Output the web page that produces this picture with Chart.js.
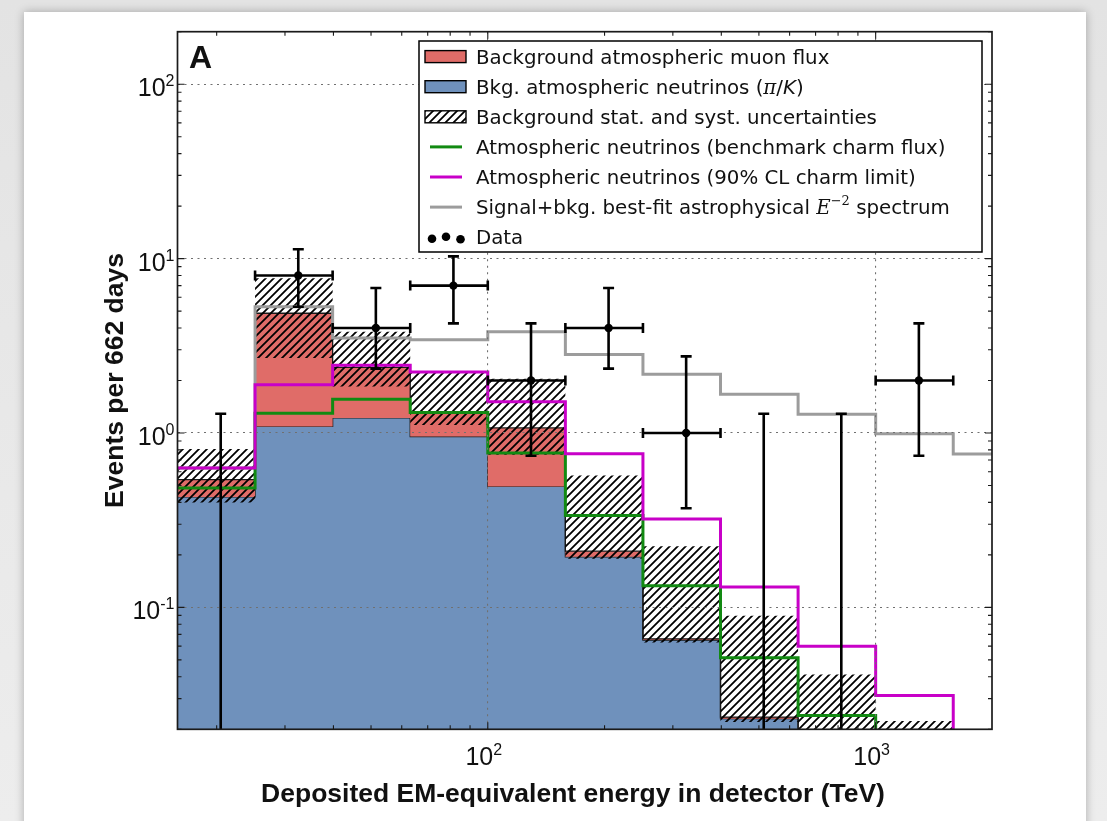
<!DOCTYPE html>
<html>
<head>
<meta charset="utf-8">
<script src="https://cdn.jsdelivr.net/npm/chart.js@4.4.1/dist/chart.umd.min.js"></script>
<style>
  html, body { margin: 0; padding: 0; }
  body { width: 1107px; height: 821px; overflow: hidden; position: relative;
         background: linear-gradient(#e3e3e3, #ededed); }
  #card { position: absolute; left: 24px; top: 12px; width: 1062px; height: 840px;
          background: #fff; box-shadow: 0 0 9px rgba(0,0,0,0.28); }
  #plot { position: absolute; left: 0; top: 0; }
</style>
</head>
<body>
<div id="card"></div>
<canvas id="plot" width="1107" height="821"></canvas>
<script>
// Energy bin edges (TeV), five bins per decade
const binEdges = [15.85, 25.12, 39.81, 63.10, 100, 158.5, 251.2, 398.1, 631.0, 1000, 1585, 2512];
const xRange = [15.85, 1995];
const yRange = [0.02, 200];

// Conventional atmospheric neutrinos (pi/K)
const bkgNeutrino = [0.43, 1.09, 1.22, 0.955, 0.494, 0.195, 0.065, 0.023, 0.012, 0.006, 0.003];
// Total background: neutrinos + atmospheric muons
const bkgTotal = [0.54, 4.86, 2.38, 1.30, 1.07, 0.21, 0.066, 0.0235, 0.0125, 0.0062, 0.0031];
// Background uncertainty band (stat. + syst.)
const bandLow = [0.40, 2.69, 1.85, 1.11, 0.75, 0.19, 0.063, 0.022, 0.011, 0.005, 0.0025];
const bandHigh = [0.81, 7.71, 3.81, 2.23, 2.05, 0.57, 0.224, 0.0897, 0.0412, 0.0223, 0.012];
// Atmospheric neutrinos incl. charm
const charmBenchmark = [0.484, 1.30, 1.56, 1.31, 0.767, 0.336, 0.133, 0.0514, 0.024, 0.011, 0.005];
const charmLimit = [0.63, 1.89, 2.45, 2.24, 1.51, 0.76, 0.321, 0.131, 0.0599, 0.0313, 0.015];
// Signal + background, best-fit E^-2 astrophysical flux
const signalPlusBkg = [0.63, 5.30, 3.50, 3.42, 3.81, 2.82, 2.17, 1.67, 1.28, 0.99, 0.757];

// Observed events and their 68% intervals
const eventCounts = [0, 8, 4, 7, 2, 4, 1, 0, 0, 2];
const countLow = [0, 5.30, 2.34, 4.25, 0.74, 2.34, 0.37, 0, 0, 0.74];
const countHigh = [1.29, 11.32, 6.78, 10.30, 4.25, 6.78, 2.75, 1.29, 1.29, 4.25];

const xTickExponents = [2, 3];
const yTickExponents = [-1, 0, 1, 2];

const legendLabels = [
  'Background atmospheric muon flux',
  'Bkg. atmospheric neutrinos (',
  'Background stat. and syst. uncertainties',
  'Atmospheric neutrinos (benchmark charm flux)',
  'Atmospheric neutrinos (90% CL charm limit)',
  'Signal+bkg. best-fit astrophysical ',
  'Data'
];

const COLORS = {
  blue: '#6f91bc', red: '#e06c68', edge: '#1a1a1a',
  green: '#128a12', magenta: '#c800c8', gray: '#9c9c9c'
};

const canvas = document.getElementById('plot');
const ctx2d = canvas.getContext('2d');

// Diagonal "////" hatch used for the uncertainty band
function makeHatch(bg) {
  const s = 8;
  const t = document.createElement('canvas');
  t.width = s; t.height = s;
  const g = t.getContext('2d');
  if (bg) { g.fillStyle = bg; g.fillRect(0, 0, s, s); }
  g.strokeStyle = '#000';
  g.lineWidth = 1.8;
  g.beginPath();
  g.moveTo(-1, s + 1); g.lineTo(s + 1, -1);
  g.moveTo(-s / 2 - 1, s / 2 + 1); g.lineTo(s / 2 + 1, -s / 2 - 1);
  g.moveTo(s / 2 - 1, s * 1.5 + 1); g.lineTo(s * 1.5 + 1, s / 2 - 1);
  g.stroke();
  return ctx2d.createPattern(t, 'repeat');
}
const hatch = makeHatch(null);
const hatchWhite = makeHatch('#ffffff');

// Histogram as a stepped line: value i held from edge i to edge i+1
function stepPoints(vals) {
  const pts = vals.map((v, i) => ({ x: binEdges[i], y: v }));
  pts.push({ x: binEdges[vals.length], y: vals[vals.length - 1] });
  return pts;
}

const dataPoints = eventCounts
  .map((n, i) => (n > 0 ? { x: (binEdges[i] + binEdges[i + 1]) / 2, y: n } : null))
  .filter(p => p !== null);

const stepLine = (label, vals, color, order) => ({
  label, data: stepPoints(vals), stepped: true, order,
  borderColor: color, borderWidth: 3, fill: false, pointRadius: 0,
  borderJoinStyle: 'miter', borderCapStyle: 'butt'
});

const datasets = [
  { label: 'Data', data: dataPoints, showLine: false, order: 0,
    pointRadius: 4.2, pointBackgroundColor: '#000', pointBorderWidth: 0 },
  stepLine('charm limit', charmLimit, COLORS.magenta, 1),
  stepLine('charm benchmark', charmBenchmark, COLORS.green, 2),
  stepLine('signal+bkg', signalPlusBkg, COLORS.gray, 3),
  { label: 'band high', data: stepPoints(bandHigh), stepped: true, order: 4,
    borderWidth: 0, borderColor: 'rgba(0,0,0,0)', pointRadius: 0,
    fill: 5, backgroundColor: hatch },
  { label: 'band low', data: stepPoints(bandLow), stepped: true, order: 5,
    borderWidth: 0, borderColor: 'rgba(0,0,0,0)', pointRadius: 0, fill: false },
  { label: 'muons', data: stepPoints(bkgTotal), stepped: true, order: 6,
    borderWidth: 1.3, borderColor: COLORS.edge, pointRadius: 0,
    fill: 7, backgroundColor: COLORS.red },
  { label: 'neutrinos', data: stepPoints(bkgNeutrino), stepped: true, order: 7,
    borderWidth: 1.3, borderColor: COLORS.edge, pointRadius: 0,
    fill: 'start', backgroundColor: COLORS.blue }
];

const isDecade = v => v > 0 && Math.abs(Math.log10(v) - Math.round(Math.log10(v))) < 1e-6;

const gridOpts = {
  z: 1, drawTicks: false, lineWidth: 1.1,
  color: c => (c.tick && isDecade(c.tick.value) ? '#707070' : 'rgba(0,0,0,0)')
};

// Frame, inward ticks, labels, error bars and legend
const decor = {
  id: 'decor',
  afterDraw(chart) {
    const ctx = chart.ctx;
    const a = chart.chartArea;
    const x = chart.scales.x, y = chart.scales.y;
    ctx.save();

    // error bars on observed events
    ctx.strokeStyle = '#000';
    ctx.lineWidth = 2.6;
    ctx.lineCap = 'butt';
    eventCounts.forEach((n, i) => {
      const lo = binEdges[i], hi = binEdges[i + 1];
      const xc = x.getPixelForValue((lo + hi) / 2);
      const yTop = y.getPixelForValue(countHigh[i]);
      const yBot = n > 0 ? y.getPixelForValue(countLow[i]) : a.bottom;
      ctx.beginPath();
      ctx.moveTo(xc, yTop); ctx.lineTo(xc, yBot);
      ctx.moveTo(xc - 5.5, yTop); ctx.lineTo(xc + 5.5, yTop);
      if (n > 0) {
        ctx.moveTo(xc - 5.5, yBot); ctx.lineTo(xc + 5.5, yBot);
        const yc = y.getPixelForValue(n);
        const x0 = x.getPixelForValue(lo), x1 = x.getPixelForValue(hi);
        ctx.moveTo(x0, yc); ctx.lineTo(x1, yc);
        ctx.moveTo(x0, yc - 5); ctx.lineTo(x0, yc + 5);
        ctx.moveTo(x1, yc - 5); ctx.lineTo(x1, yc + 5);
      }
      ctx.stroke();
    });

    // inward major/minor ticks on all four sides
    ctx.strokeStyle = '#1a1a1a';
    ctx.lineWidth = 1.1;
    ctx.beginPath();
    for (let e = 1; e <= 3; e++) {
      for (let m = 1; m <= 9; m++) {
        const v = m * Math.pow(10, e);
        if (v < xRange[0] || v > xRange[1]) continue;
        const px = x.getPixelForValue(v);
        const L = m === 1 ? 7 : 4;
        ctx.moveTo(px, a.bottom); ctx.lineTo(px, a.bottom - L);
        ctx.moveTo(px, a.top); ctx.lineTo(px, a.top + L);
      }
    }
    for (let e = -2; e <= 2; e++) {
      for (let m = 1; m <= 9; m++) {
        const v = m * Math.pow(10, e);
        if (v < yRange[0] || v > yRange[1]) continue;
        const py = y.getPixelForValue(v);
        const L = m === 1 ? 7 : 4;
        ctx.moveTo(a.left, py); ctx.lineTo(a.left + L, py);
        ctx.moveTo(a.right, py); ctx.lineTo(a.right - L, py);
      }
    }
    ctx.stroke();
    ctx.lineWidth = 1.7;
    ctx.strokeRect(a.left, a.top, a.width, a.height);

    // tick labels 10^n
    const baseFont = '25px "Liberation Sans", Arial, sans-serif';
    const expFont = '16px "Liberation Sans", Arial, sans-serif';
    ctx.fillStyle = '#111';
    ctx.textBaseline = 'alphabetic';
    ctx.textAlign = 'left';
    const measure = (t, f) => { ctx.font = f; return ctx.measureText(t).width; };
    yTickExponents.forEach(e => {
      const py = y.getPixelForValue(Math.pow(10, e));
      const es = e < 0 ? '-' + (-e) : String(e);
      const we = measure(es, expFont), wb = measure('10', baseFont);
      const xr = a.left - 3;
      ctx.font = baseFont; ctx.fillText('10', xr - we - wb, py + 12);
      ctx.font = expFont; ctx.fillText(es, xr - we, py + 2);
    });
    xTickExponents.forEach(e => {
      const px = x.getPixelForValue(Math.pow(10, e));
      const es = String(e);
      const we = measure(es, expFont), wb = measure('10', baseFont);
      const x0 = px - (we + wb) / 2 - 4;
      ctx.font = baseFont; ctx.fillText('10', x0, 765);
      ctx.font = expFont; ctx.fillText(es, x0 + wb, 755);
    });

    // axis titles
    ctx.font = 'bold 26.5px "Liberation Sans", Arial, sans-serif';
    ctx.textAlign = 'center';
    ctx.fillText('Deposited EM-equivalent energy in detector (TeV)', 573, 802);
    ctx.save();
    ctx.translate(123, (a.top + a.bottom) / 2);
    ctx.rotate(-Math.PI / 2);
    ctx.fillText('Events per 662 days', 0, 0);
    ctx.restore();

    // panel letter
    ctx.textAlign = 'left';
    ctx.font = 'bold 32px "Liberation Sans", Arial, sans-serif';
    ctx.fillText('A', 189, 68);

    // legend
    const lx = 419, ly = 41, lw = 563, lh = 211;
    ctx.fillStyle = '#fff';
    ctx.fillRect(lx, ly, lw, lh);
    ctx.strokeStyle = '#000';
    ctx.lineWidth = 1.5;
    ctx.strokeRect(lx, ly, lw, lh);

    const rowY = i => 56.6 + 30.1 * i;
    const patch = (i, fill) => {
      const cy = rowY(i);
      ctx.fillStyle = fill;
      ctx.fillRect(425, cy - 6, 41, 12);
      ctx.strokeStyle = '#000';
      ctx.lineWidth = 1.4;
      ctx.strokeRect(425, cy - 6, 41, 12);
    };
    patch(0, COLORS.red);
    patch(1, COLORS.blue);
    patch(2, hatchWhite);
    const lineSw = (i, color) => {
      const cy = rowY(i);
      ctx.strokeStyle = color;
      ctx.lineWidth = 3;
      ctx.beginPath(); ctx.moveTo(430, cy); ctx.lineTo(462, cy); ctx.stroke();
    };
    lineSw(3, COLORS.green);
    lineSw(4, COLORS.magenta);
    lineSw(5, COLORS.gray);
    ctx.fillStyle = '#000';
    [[432, 1.5], [446, -0.5], [460.5, 2]].forEach(([dx, dy]) => {
      ctx.beginPath(); ctx.arc(dx, rowY(6) + dy, 4.3, 0, Math.PI * 2); ctx.fill();
    });

    const txtFont = '19.8px "DejaVu Sans", sans-serif';
    const runs = (i, parts) => {
      let cx = 476;
      const by = rowY(i) + 7;
      ctx.fillStyle = '#111';
      parts.forEach(p => {
        ctx.font = p.font || txtFont;
        ctx.fillText(p.t, cx, by + (p.dy || 0));
        cx += ctx.measureText(p.t).width;
      });
    };
    runs(0, [{ t: legendLabels[0] }]);
    runs(1, [{ t: legendLabels[1] },
             { t: 'π', font: 'italic 19.8px "DejaVu Serif", serif' },
             { t: '/' },
             { t: 'K', font: 'italic 19.8px "DejaVu Sans", sans-serif' },
             { t: ')' }]);
    runs(2, [{ t: legendLabels[2] }]);
    runs(3, [{ t: legendLabels[3] }]);
    runs(4, [{ t: legendLabels[4] }]);
    runs(5, [{ t: legendLabels[5] },
             { t: 'E', font: 'italic 19.8px "DejaVu Serif", serif' },
             { t: '−2', font: '13px "DejaVu Serif", serif', dy: -9 },
             { t: ' spectrum' }]);
    runs(6, [{ t: legendLabels[6] }]);

    ctx.restore();
  }
};

new Chart(ctx2d, {
  type: 'line',
  data: { datasets },
  options: {
    responsive: false,
    animation: false,
    devicePixelRatio: 1,
    parsing: true,
    layout: { padding: { left: 177.5, top: 31.7, right: 1107 - 992, bottom: 821 - 729.3 } },
    plugins: { legend: { display: false }, tooltip: { enabled: false } },
    elements: { line: { tension: 0 } },
    scales: {
      x: {
        type: 'logarithmic', min: xRange[0], max: xRange[1],
        afterFit: s => { s.height = 0; },
        ticks: { display: false },
        grid: gridOpts,
        border: { display: false, dash: [2, 4.5] }
      },
      y: {
        type: 'logarithmic', min: yRange[0], max: yRange[1],
        afterFit: s => { s.width = 0; },
        ticks: { display: false },
        grid: gridOpts,
        border: { display: false, dash: [2, 4.5] }
      }
    }
  },
  plugins: [decor]
});
</script>
</body>
</html>
